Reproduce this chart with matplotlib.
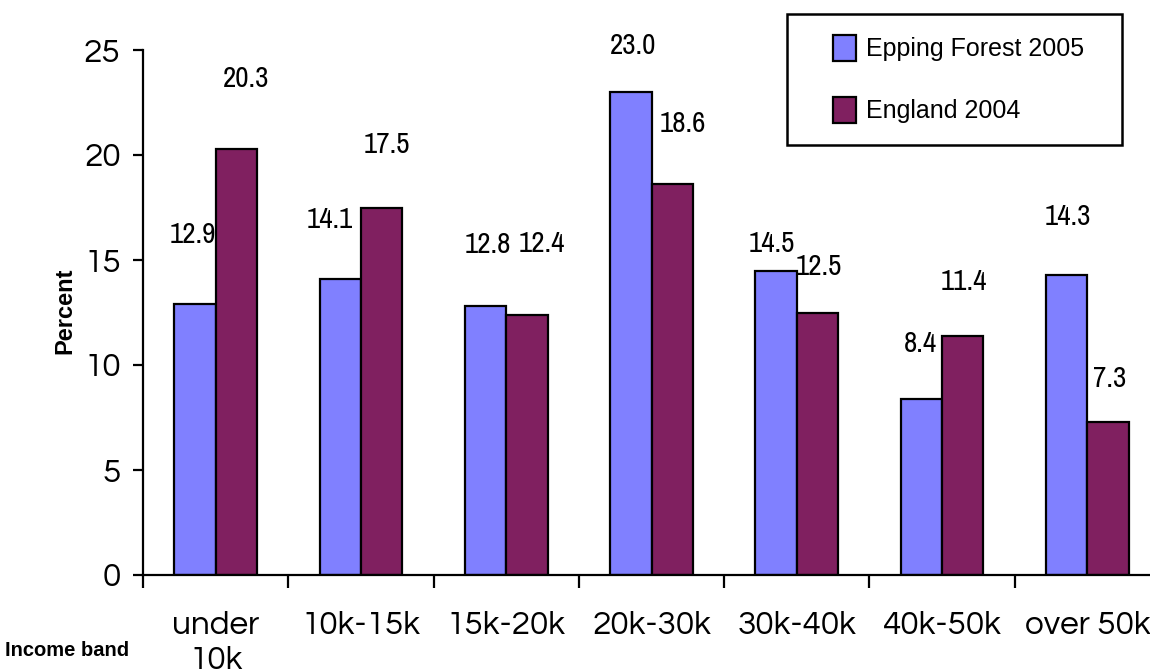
import matplotlib
matplotlib.use("Agg")
import matplotlib.pyplot as plt
import numpy as np
from matplotlib import font_manager
from matplotlib.patches import Rectangle

categories = ["under\n10k", "10k-15k", "15k-20k", "20k-30k", "30k-40k", "40k-50k", "over 50k"]
epping = [12.9, 14.1, 12.8, 23.0, 14.5, 8.4, 14.3]
england = [20.3, 17.5, 12.4, 18.6, 12.5, 11.4, 7.3]
series_names = ["Epping Forest 2005", "England 2004"]

# label offsets in pixels from the bar top (the labels were hand-placed)
epping_offsets = [(-2, 70), (-10, 59), (2, 62), (2, 47), (-4, 27), (-1, 55), (1, 58)]
england_offsets = [(10, 70), (5, 63), (15, 71), (11, 61), (1, 46), (1, 54), (2, 43)]

blue = "#8080ff"
purple = "#802060"

names = {f.name for f in font_manager.fontManager.ttflist}


def pick(*cands):
    for c in cands:
        if c in names:
            return c
    return "DejaVu Sans"


narrow = pick("Archivo Narrow", "PT Sans Narrow", "Roboto Condensed")
round_font = pick("Questrial", "Didact Gothic", "DejaVu Sans")
arial = pick("Liberation Sans", "Arimo")

fig = plt.figure(figsize=(11.5, 6.7), dpi=100)
ax = fig.add_axes([143 / 1150, 95 / 670, 1017 / 1150, 525 / 670])

x = np.arange(len(categories))
w = 0.285
b1 = ax.bar(x - w / 2, epping, w, color=blue, edgecolor="black", linewidth=1.6, label=series_names[0])
b2 = ax.bar(x + w / 2, england, w, color=purple, edgecolor="black", linewidth=1.6, label=series_names[1])

for bars, vals, offs in [(b1, epping, epping_offsets), (b2, england, england_offsets)]:
    for bar, v, (dx, dy) in zip(bars, vals, offs):
        ax.annotate(f"{v:.1f}", (bar.get_x() + bar.get_width() / 2, v),
                    xytext=(dx, dy), textcoords="offset pixels",
                    ha="center", va="center", fontsize=21, family=narrow)

ax.set_xlim(-0.5, len(categories) - 0.5)
ax.set_ylim(0, 25)
ax.set_yticks(range(0, 26, 5))
ax.set_xticks(np.arange(len(categories) + 1) - 0.5)
ax.set_xticklabels([])
ax.set_xticks(x, minor=True)
ax.set_xticklabels(categories, minor=True, fontsize=24, linespacing=1.2, family=round_font)
ax.tick_params(axis="x", which="major", direction="out", length=9, width=1.6)
ax.tick_params(axis="x", which="minor", length=0, pad=26)
ax.tick_params(axis="y", direction="out", length=7, width=1.6, pad=9, labelsize=24)
for t in ax.get_yticklabels():
    t.set_family(round_font)

for s in ["top", "right"]:
    ax.spines[s].set_visible(False)
for s in ["left", "bottom"]:
    ax.spines[s].set_linewidth(1.6)

fig.text(65 / 1150, 1 - 311 / 670, "Percent", rotation=90, ha="center", va="center",
         fontsize=17, fontweight="bold", family=arial)
fig.text(5 / 1150, 1 - 650 / 670, "Income band", ha="left", va="center",
         fontsize=14.5, fontweight="bold", family=arial)

leg = fig.legend(handles=[b1, b2], loc="upper left", bbox_to_anchor=(820 / 1150, 1 - 22 / 670),
                 frameon=False, borderpad=0, handlelength=0.92, handleheight=1.25,
                 handletextpad=0.4, labelspacing=1.42, prop={"family": arial, "size": 18})
for h in leg.legend_handles:
    h.set_linewidth(1.6)
fig.patches.append(Rectangle((787 / 1150, 1 - 145 / 670), 335 / 1150, 131 / 670,
                             transform=fig.transFigure, fill=False, edgecolor="black", linewidth=1.8))

fig.savefig("out.png", dpi=100)
